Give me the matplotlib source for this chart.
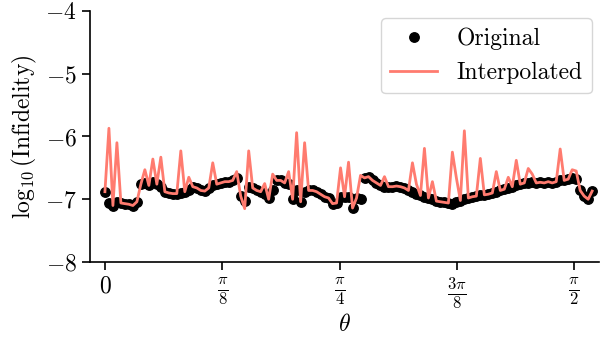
import numpy as np
import matplotlib
matplotlib.use("Agg")
import matplotlib.pyplot as plt

plt.rcParams["font.family"] = "serif"
plt.rcParams["font.serif"] = ["cmr10", "DejaVu Serif"]
plt.rcParams["mathtext.fontset"] = "cm"
plt.rcParams["axes.formatter.use_mathtext"] = True

# sample grid (theta, radians)
theta = np.linspace(0.0, 1.631, 123)

original = [
    -6.88, -7.06, -7.10, -7.05, -7.06, -7.07, -7.08, -7.10, -7.04, -6.76,
    -6.74, -6.78, -6.73, -6.76, -6.80, -6.88, -6.90, -6.91, -6.91, -6.90,
    -6.88, -6.85, -6.80, -6.82, -6.86, -6.87, -6.82, -6.78, -6.76, -6.74,
    -6.72, -6.72, -6.70, -6.66, -6.95, -7.02, -6.80, -6.82, -6.86, -6.88,
    -6.92, -6.98, -6.85, -6.70, -6.70, -6.74, -6.76, -7.00, -6.85, -7.04,
    -6.88, -6.86, -6.86, -6.88, -6.92, -6.96, -6.98, -7.07, -7.06, -6.97,
    -6.96, -6.97, -7.14, -6.98, -7.00, -6.66, -6.64, -6.70, -6.74, -6.78,
    -6.80, -6.80, -6.80, -6.79, -6.80, -6.82, -6.86, -6.88, -6.92, -6.94,
    -6.96, -6.98, -7.00, -7.03, -7.04, -7.05, -7.06, -7.07, -7.04, -7.02,
    -7.00, -6.98, -6.96, -6.95, -6.94, -6.93, -6.92, -6.90, -6.88, -6.86,
    -6.84, -6.82, -6.80, -6.78, -6.76, -6.74, -6.74, -6.72, -6.74, -6.73,
    -6.74, -6.72, -6.74, -6.72, -6.70, -6.70, -6.68, -6.66, -6.68, -6.86,
    -6.95, -7.00, -6.87,
]

interpolated = [
    -6.88, -5.87, -7.10, -6.10, -7.06, -7.07, -7.08, -7.10, -7.04, -6.76,
    -6.53, -6.78, -6.36, -6.76, -6.33, -6.88, -6.90, -6.91, -6.91, -6.23,
    -6.88, -6.65, -6.80, -6.82, -6.86, -6.87, -6.82, -6.42, -6.76, -6.74,
    -6.72, -6.72, -6.70, -6.56, -6.95, -7.15, -6.23, -6.82, -6.86, -6.88,
    -6.75, -7.00, -6.60, -6.70, -6.70, -6.74, -6.56, -7.00, -5.94, -7.04,
    -6.10, -6.86, -6.86, -6.88, -6.92, -6.96, -6.98, -7.07, -7.06, -6.50,
    -6.96, -6.41, -7.14, -6.98, -6.62, -6.66, -6.64, -6.70, -6.74, -6.78,
    -6.64, -6.80, -6.80, -6.79, -6.80, -6.82, -6.86, -6.42, -6.76, -6.94,
    -6.19, -6.98, -6.72, -7.03, -7.04, -7.05, -7.06, -6.25, -6.66, -7.02,
    -5.91, -6.98, -6.96, -6.95, -6.35, -6.93, -6.92, -6.90, -6.56, -6.86,
    -6.84, -6.65, -6.80, -6.38, -6.76, -6.74, -6.51, -6.60, -6.74, -6.73,
    -6.74, -6.72, -6.74, -6.72, -6.20, -6.70, -6.68, -6.53, -6.55, -6.86,
    -6.95, -7.00, -6.87,
]

xtick_pos = [0, np.pi / 8, np.pi / 4, 3 * np.pi / 8, np.pi / 2]
xtick_labels = [r"$0$", r"$\frac{\pi}{8}$", r"$\frac{\pi}{4}$",
                r"$\frac{3\pi}{8}$", r"$\frac{\pi}{2}$"]
ytick_pos = [-8, -7, -6, -5, -4]

fig = plt.figure(figsize=(6.06, 3.39), dpi=100)
ax = fig.add_axes([0.1485, 0.227, 0.84, 0.741])

ax.plot(theta, original, "o", color="black", markersize=6.8, label="Original")
ax.plot(theta, interpolated, "-", color="#ff7b6f", lw=2.0, label="Interpolated")

ax.set_xlim(-0.05, 1.654)
ax.set_ylim(-8, -4)
ax.set_xticks(xtick_pos)
ax.set_xticklabels(xtick_labels, fontsize=17)
ax.set_yticks(ytick_pos)
ax.set_yticklabels([rf"${v}$" for v in ytick_pos], fontsize=17)
ax.tick_params(direction="out", length=6, width=1.2)

for side in ("top", "right"):
    ax.spines[side].set_visible(False)
for side in ("left", "bottom"):
    ax.spines[side].set_linewidth(1.2)

ax.set_xlabel(r"$\theta$", fontsize=17, labelpad=2)
ax.set_ylabel(r"$\log_{10}(\mathrm{Infidelity})$", fontsize=17, labelpad=4)

ax.legend(loc="upper right", fontsize=17, frameon=True,
          borderaxespad=0.3, handletextpad=0.8)

fig.savefig("out.png", dpi=100)
